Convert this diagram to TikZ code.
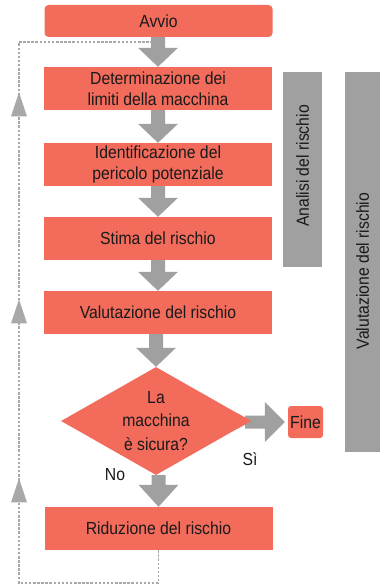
\documentclass[tikz,border=0pt]{standalone}
\usepackage{fontspec}
\setmainfont{Liberation Sans}[FakeStretch=0.9]
\usetikzlibrary{shapes.geometric,decorations.markings,calc}
\definecolor{boxred}{HTML}{F26B5B}
\definecolor{arrgray}{HTML}{A0A0A0}
\definecolor{dashgray}{HTML}{A8A8A8}
\definecolor{txt}{HTML}{1A1A1A}
\newcommand\blkdown[3]{%
  \fill[arrgray] let \p1=(#1), \p2=(#2) in
    (\x2-7pt,\y1) -- (\x2+7pt,\y1) -- (\x2+7pt,\y2+#3) -- (\x2+20pt,\y2+#3) --
    (\x2,\y2) -- (\x2-20pt,\y2+#3) -- (\x2-7pt,\y2+#3) -- cycle;}
\begin{document}
\begin{tikzpicture}[x=1pt,y=-1pt,
  txtfont/.style={font=\fontsize{17.5}{20.5}\selectfont, text=txt},
  stepbox/.style={txtfont, fill=boxred, draw=none, minimum width=228pt,
    minimum height=43pt, inner sep=0pt, align=center},
  endbox/.style={txtfont, fill=boxred, draw=none, rounded corners=3pt,
    inner sep=0pt},
  barbox/.style={fill=arrgray, draw=none, inner sep=0pt},
  bartext/.style={txtfont, rotate=90, inner sep=0pt},
  dashline/.style={draw=dashgray, line width=1.6pt, dash pattern=on 2.5pt off 1.6pt}
]
\useasboundingbox (0,0) rectangle (380,585);

% side bars
\node[barbox, minimum width=39pt, minimum height=195pt] (anabar) at (302.5,169.5) {};
\node[bartext] (anatxt) at (302.5,166) {Analisi del rischio};
\node[barbox, minimum width=35pt, minimum height=380pt] (valbar) at (362.5,262) {};
\node[bartext] (valtxt) at (362.5,271) {Valutazione del rischio};

% flow nodes
\node[stepbox, minimum height=32pt, rounded corners=4pt] (avvio) at (158.5,21) {Avvio};
\node[stepbox] (limiti) at (158,88.5) {Determinazione dei\\limiti della macchina};
\node[stepbox] (peric) at (158,164.5) {Identificazione del\\pericolo potenziale};
\node[stepbox] (stima) at (158,238.5) {Stima del rischio};
\node[stepbox] (valut) at (158,312.5) {Valutazione del rischio};
\node[diamond, fill=boxred, draw=none, minimum width=190pt, minimum height=108pt,
  aspect=1.76, inner sep=0pt, align=center, txtfont,
  font=\fontsize{17.5}{23.5}\selectfont] (dec) at (156,421) {La\\macchina\\è sicura?};
\node[endbox, minimum width=35pt, minimum height=32pt] (fine) at (305.5,422) {Fine};
\node[stepbox] (rid) at (158.5,528.5) {Riduzione del rischio};

% labels
\node[txtfont, inner sep=0pt] (no) at (115,475) {No};
\node[txtfont, inner sep=0pt] (si) at (250,459) {Sì};

% block arrows
\blkdown{avvio.south}{limiti.north}{19pt}
\blkdown{limiti.south}{peric.north}{19pt}
\blkdown{peric.south}{stima.north}{19pt}
\blkdown{stima.south}{valut.north}{19pt}
\blkdown{valut.south}{dec.north}{19pt}
\blkdown{dec.south}{rid.north}{22pt}
\fill[arrgray] let \p1=(dec.east), \p2=(fine.west) in
  (\x1-6pt,\y2+6.5pt) -- (\x2-23pt,\y2+6.5pt) -- (\x2-23pt,\y2+20pt) --
  (\x2-3pt,\y2) -- (\x2-23pt,\y2-20pt) -- (\x2-23pt,\y2-6.5pt) --
  (\x1-6pt,\y2-6.5pt) -- cycle;
% diamond tip drawn over the arrow shaft
\fill[boxred] (dec.east) -- ++(-14pt,-7.9pt) -- ++(0pt,15.8pt) -- cycle;

% dashed feedback loop
\coordinate (loopend) at (152,42);
\draw[dashline,
  decoration={markings,
    mark=at position 277pt with {\fill[dashgray] (0pt,0pt) -- (-24pt,8pt) -- (-24pt,-8pt) -- cycle;},
    mark=at position 456pt with {\fill[dashgray] (0pt,0pt) -- (-24pt,8pt) -- (-24pt,-8pt) -- cycle;},
    mark=at position 663pt with {\fill[dashgray] (0pt,0pt) -- (-24pt,8pt) -- (-24pt,-8pt) -- cycle;}},
  postaction={decorate}]
  (rid.south) -- (158.5,583) -- (19,583) -- (19,42) -- (loopend);
\end{tikzpicture}
\end{document}
